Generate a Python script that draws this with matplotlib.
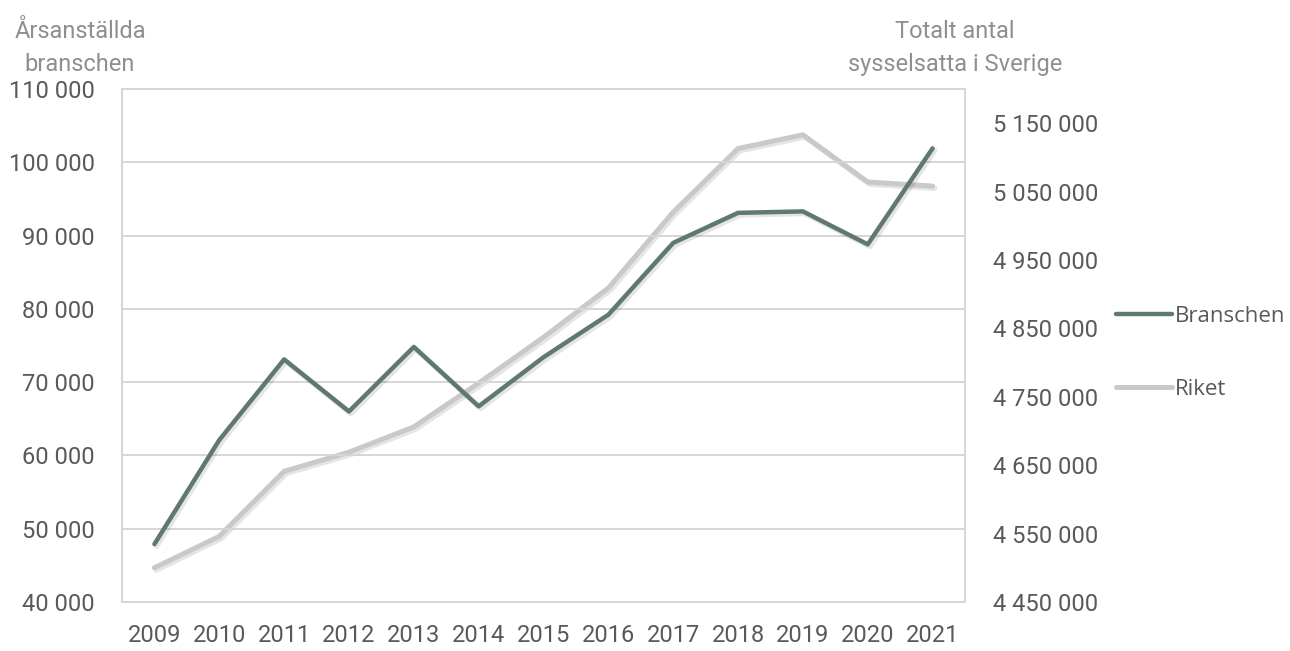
import matplotlib
matplotlib.use("Agg")
import matplotlib.pyplot as plt
import matplotlib.patheffects as pe
from matplotlib.ticker import FuncFormatter, MultipleLocator

years = ["2009", "2010", "2011", "2012", "2013", "2014", "2015",
         "2016", "2017", "2018", "2019", "2020", "2021"]
branschen = [47900, 62100, 73100, 66000, 74800, 66700, 73400,
             79200, 89000, 93100, 93300, 88800, 101900]
riket = [4500000, 4546000, 4641000, 4669000, 4706000, 4770000, 4837000,
         4909000, 5020000, 5113000, 5133000, 5064000, 5058000]

GREEN = "#5F7A6C"
GRAY_LINE = "#C9C9C9"
GRID = "#D6D6D6"
TICK_COL = "#595959"
TITLE_COL = "#8F8F8F"

def fmt(v, pos=None):
    return f"{int(round(v)):,}".replace(",", " ")

fig = plt.figure(figsize=(12.9, 6.51), dpi=100)
ax = fig.add_axes([122/1290, 49/651, (965-122)/1290, (602-89)/651])
ax2 = ax.twinx()

x = list(range(len(years)))
shadow = [pe.SimpleLineShadow(offset=(1.5, -1.5), shadow_color="#000000", alpha=0.10, linewidth=4), pe.Normal()]
l1, = ax.plot(x, branschen, color=GREEN, lw=3.2, solid_capstyle="round", zorder=4,
              path_effects=shadow, label="Branschen")
l2, = ax2.plot(x, riket, color=GRAY_LINE, lw=3.6, solid_capstyle="round", zorder=3,
               path_effects=shadow, label="Riket")
ax.set_zorder(ax2.get_zorder() + 1)
ax.patch.set_visible(False)

ax.set_xlim(-0.5, len(years) - 0.5)
ax.set_ylim(40000, 110000)
ax.yaxis.set_major_locator(MultipleLocator(10000))
ax.yaxis.set_major_formatter(FuncFormatter(fmt))
ax.grid(axis="y", color=GRID, lw=1.4)
ax.set_axisbelow(True)
ax.set_xticks(x)
ax.set_xticklabels(years)

ax2.set_ylim(4450000, 5200000)
ax2.set_yticks([4450000 + 100000 * i for i in range(8)])
ax2.yaxis.set_major_formatter(FuncFormatter(fmt))

for a in (ax, ax2):
    for s in a.spines.values():
        s.set_color(GRID)
        s.set_linewidth(1.4)
    a.tick_params(length=0, labelsize=17, labelcolor=TICK_COL)
    for lab in a.get_yticklabels() + a.get_xticklabels():
        lab.set_fontfamily("Roboto")
ax.tick_params(axis="y", pad=19.5)
ax.tick_params(axis="x", pad=16)
ax2.tick_params(axis="y", pad=20)

fig.text(80/1290, 1 - 48/651, "Årsanställda\nbranschen", ha="center", va="center",
         fontsize=17, color=TITLE_COL, family="Roboto", linespacing=1.6)
fig.text(955/1290, 1 - 48/651, "Totalt antal\nsysselsatta i Sverige", ha="center", va="center",
         fontsize=17, color=TITLE_COL, family="Roboto", linespacing=1.6)

leg = fig.legend([l1, l2], ["Branschen", "Riket"], loc="center left",
                 bbox_to_anchor=(1116/1290, 1 - 353/651), frameon=False,
                 borderpad=0, borderaxespad=0,
                 handlelength=2.5, handletextpad=0.15, labelspacing=2.35,
                 prop={"family": "Open Sans", "size": 16})
for t in leg.get_texts():
    t.set_color(TICK_COL)
for h in leg.get_lines():
    h.set_path_effects([])

fig.savefig("out.png", dpi=100, facecolor="white")
